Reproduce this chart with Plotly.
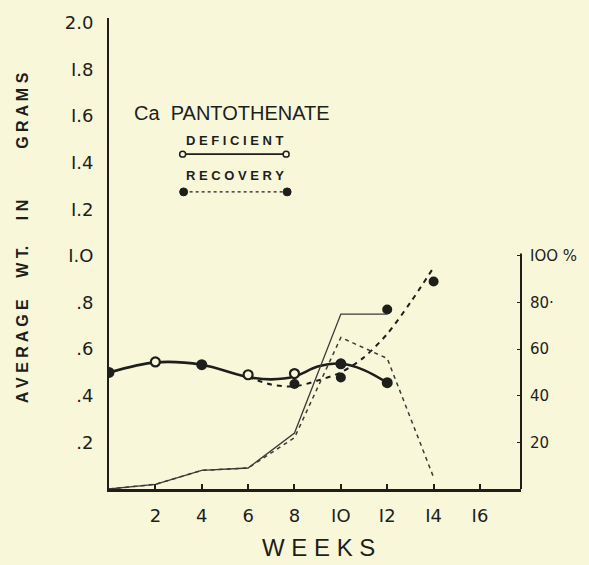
import plotly.graph_objects as go

# ---- data ----
tick_weeks = [2, 4, 6, 8, 10, 12, 14, 16]
tick_week_labels = ["2", "4", "6", "8", "IO", "I2", "I4", "I6"]
wt_ticks = [0.2, 0.4, 0.6, 0.8, 1.0, 1.2, 1.4, 1.6, 1.8, 2.0]
wt_tick_labels = [".2", ".4", ".6", ".8", "I.O", "I.2", "I.4", "I.6", "I.8", "2.0"]
pct_ticks = [20, 40, 60, 80, 100]
pct_tick_labels = ["20", "40", "60", "80·", "IOO %"]

# deficient weight (heavy solid curve)
def_curve_weeks = [0, 2, 4, 6, 7, 8, 9, 10, 11, 12]
def_curve_vals = [0.50, 0.543, 0.533, 0.48, 0.47, 0.482, 0.525, 0.538, 0.51, 0.456]
def_filled_weeks = [0, 4, 10, 12]
def_filled_vals = [0.50, 0.533, 0.537, 0.456]
def_open_weeks = [2, 6, 8]
def_open_vals = [0.545, 0.49, 0.495]

# recovery weight (dashed curve)
rec_curve_weeks = [6, 7, 8, 9, 10, 11, 12, 13, 14]
rec_curve_vals = [0.48, 0.448, 0.44, 0.465, 0.50, 0.565, 0.665, 0.80, 0.95]
rec_mark_weeks = [8, 10, 12, 14]
rec_mark_vals = [0.45, 0.478, 0.77, 0.89]

# percentages (right axis)
pct_solid_weeks = [0, 2, 4, 6, 8, 10, 12]
pct_solid_vals = [0, 2, 8, 9, 24, 75, 75]
pct_dash_weeks = [0, 2, 4, 6, 8, 10, 12, 14]
pct_dash_vals = [0, 2, 8, 9, 22, 65, 56, 5]

BG = "#f8f7da"
INK = "#1e1e1a"

fig = go.Figure()

fig.add_trace(go.Scatter(x=pct_solid_weeks, y=pct_solid_vals, yaxis="y2", mode="lines",
                         line=dict(color="#3a3a36", width=1.3), showlegend=False))
fig.add_trace(go.Scatter(x=pct_dash_weeks, y=pct_dash_vals, yaxis="y2", mode="lines",
                         line=dict(color="#3a3a36", width=1.5, dash="4px,4px"), showlegend=False))

fig.add_trace(go.Scatter(x=rec_curve_weeks, y=rec_curve_vals, mode="lines",
                         line=dict(color=INK, width=2, dash="5px,5px", shape="spline", smoothing=0.8),
                         showlegend=False))
fig.add_trace(go.Scatter(x=def_curve_weeks, y=def_curve_vals, mode="lines",
                         line=dict(color=INK, width=2.6, shape="spline", smoothing=0.9),
                         showlegend=False))

fig.add_trace(go.Scatter(x=rec_mark_weeks, y=rec_mark_vals, mode="markers",
                         marker=dict(color=INK, size=10, opacity=1, line=dict(width=0)),
                         showlegend=False))
fig.add_trace(go.Scatter(x=def_filled_weeks, y=def_filled_vals, mode="markers",
                         marker=dict(color=INK, size=11, opacity=1, line=dict(width=0)),
                         showlegend=False))
fig.add_trace(go.Scatter(x=def_open_weeks, y=def_open_vals, mode="markers",
                         marker=dict(color=BG, size=9, opacity=1, line=dict(color=INK, width=2.2)),
                         showlegend=False))

L, R, T, B = 109, 66, 15, 76
W, H = 589, 565
pw, ph = W - L - R, H - T - B


def px(x):
    return (x - L) / pw


def py(y):
    return (H - B - y) / ph


shapes = [
    # right axis line (0..100 %)
    dict(type="line", xref="paper", yref="y2", x0=1, x1=1, y0=0, y1=101,
         line=dict(color=INK, width=2)),
    # legend lines
    dict(type="line", xref="paper", yref="paper", x0=px(183), x1=px(287), y0=py(152), y1=py(152),
         line=dict(color=INK, width=1.6)),
    dict(type="line", xref="paper", yref="paper", x0=px(184), x1=px(288), y0=py(190), y1=py(190),
         line=dict(color=INK, width=1.4, dash="3px,3px")),
    dict(type="circle", xref="paper", yref="paper", x0=px(180), x1=px(186), y0=py(149), y1=py(155),
         line=dict(color=INK, width=1.5), fillcolor=BG),
    dict(type="circle", xref="paper", yref="paper", x0=px(284), x1=px(290), y0=py(149), y1=py(155),
         line=dict(color=INK, width=1.5), fillcolor=BG),
    dict(type="circle", xref="paper", yref="paper", x0=px(180), x1=px(188), y0=py(186), y1=py(194),
         line=dict(color=INK, width=1), fillcolor=INK),
    dict(type="circle", xref="paper", yref="paper", x0=px(284), x1=px(292), y0=py(186), y1=py(194),
         line=dict(color=INK, width=1), fillcolor=INK),
]

ann_font = dict(family="Liberation Sans", color=INK)


def ann(text, x, y, size, angle=0):
    return dict(text=text, x=px(x), y=py(y), xref="paper", yref="paper", showarrow=False,
                xanchor="center", yanchor="middle", textangle=angle,
                font=dict(size=size, **ann_font))


annotations = [
    ann("Ca  PANTOTHENATE", 233, 111, 20),
    ann("<b>D E F I C I E N T</b>", 236, 138, 13),
    ann("<b>R E C O V E R Y</b>", 236, 173, 13),
    ann("W E E K S", 320, 548, 24),
]
for word, cy in [("G R A M S", 108), ("I N", 208), ("W T.", 260), ("A V E R A G E", 350)]:
    annotations.append(ann("<b>" + word + "</b>", 22, cy, 16, -90))

fig.update_layout(
    width=W, height=H,
    margin=dict(l=L, r=R, t=T, b=B, pad=0),
    paper_bgcolor=BG, plot_bgcolor=BG,
    showlegend=False,
    shapes=shapes,
    annotations=annotations,
    xaxis=dict(range=[0, 17.77], tickvals=tick_weeks, ticktext=tick_week_labels,
               showgrid=False, zeroline=False, showline=True, linecolor=INK, linewidth=3,
               ticks="inside", ticklen=5, tickwidth=1.5, tickcolor=INK,
               tickfont=dict(family="DejaVu Sans", size=18, color=INK), ticklabelstandoff=8),
    yaxis=dict(range=[0, 2.02], tickvals=wt_ticks, ticktext=wt_tick_labels,
               showgrid=False, zeroline=False, showline=True, linecolor=INK, linewidth=2,
               ticks="", tickfont=dict(family="DejaVu Sans", size=18, color=INK),
               ticklabelstandoff=10),
    yaxis2=dict(range=[0, 202], overlaying="y", side="right", tickvals=pct_ticks,
                ticktext=pct_tick_labels, showgrid=False, zeroline=False, showline=False,
                ticks="inside", ticklen=4, tickcolor=INK, tickwidth=1.2,
                tickfont=dict(family="DejaVu Sans", size=15, color=INK), ticklabelstandoff=8),
)

fig.write_html("out.html", config={"displayModeBar": False},
               post_script="document.body.style.margin='0';")
